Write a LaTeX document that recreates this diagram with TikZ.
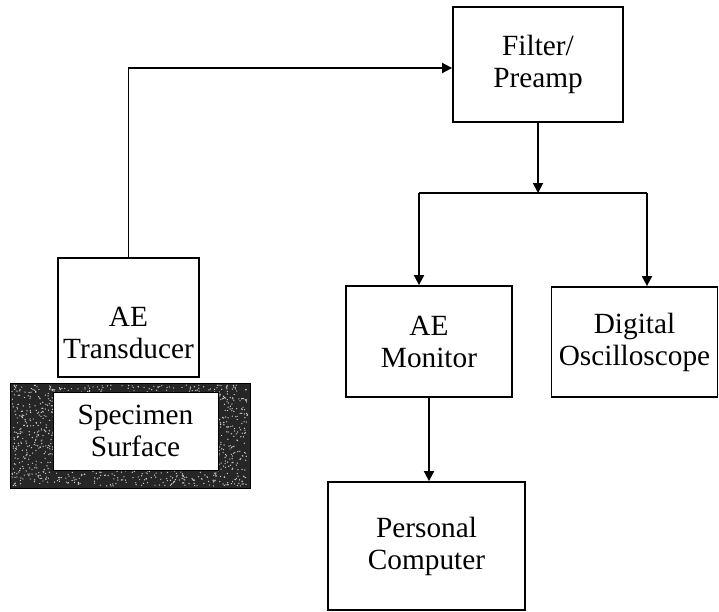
\documentclass[tikz,border=0pt]{standalone}
\usepackage{fontspec}
\setmainfont{Liberation Serif}
\usetikzlibrary{positioning,arrows.meta,calc}

\tikzset{
  box/.style={draw, line width=1.8pt, align=center, inner sep=0pt,
    font=\fontsize{29.3}{32}\selectfont},
  arr/.style={line width=1.8pt, -{Triangle[length=10pt,width=10pt]}},
  link/.style={line width=1.8pt}
}

\begin{document}
\begin{tikzpicture}[x=1pt, y=-1pt]
  \useasboundingbox (0,0) rectangle (719,611);

  % specimen block with its grainy fill
  \node[draw, line width=1pt, fill=black!85, minimum width=240pt, minimum height=105pt]
    (spec) at (130,435.5) {};
  \pgfmathsetseed{11}
  \foreach \k in {1,...,1600}
  {
    \pgfmathsetmacro{\sx}{12+236*rnd}
    \pgfmathsetmacro{\sy}{385+101*rnd}
    \fill[black!20] (\sx,\sy) circle (0.7);
  }
  \node[box, line width=0.6pt, fill=white, minimum width=165pt, minimum height=78pt]
    (surface) at (135.5,431) {Specimen\\Surface};

  % instrument boxes
  \node[box, minimum width=141pt, minimum height=119pt,
    label={[name=transtext, align=center, yshift=-15pt,
      font=\fontsize{29.3}{32}\selectfont]center:AE\\Transducer}]
    (trans) at (128.5,317.5) {};
  \node[box, minimum width=170pt, minimum height=115pt] (filter) at (538,64.5) {Filter/\\Preamp};
  \node[box, minimum width=166pt, minimum height=111pt] (monitor) at (429,341.5) {AE\\Monitor};
  \node[box, minimum width=166pt, minimum height=110pt] (scope) at (634.5,342) {Digital\\Oscilloscope};
  \node[box, minimum width=197pt, minimum height=128pt] (pc) at (426.5,546) {Personal\\Computer};

  % signal path
  \coordinate (split) at (filter.south |- 0,193);
  \coordinate (splitL) at (419,193);
  \coordinate (splitR) at (647,193);
  \draw[arr] (trans.north) |- ($(filter.west)+(0,3.5)$);
  \draw[arr] (filter.south) -- (split);
  \draw[link] (splitL) -- (splitR);
  \draw[arr] (splitL) -- (splitL |- monitor.north);
  \draw[arr] (splitR) -- (splitR |- scope.north);
  \draw[arr] (monitor.south) -- (monitor.south |- pc.north);
\end{tikzpicture}
\end{document}
